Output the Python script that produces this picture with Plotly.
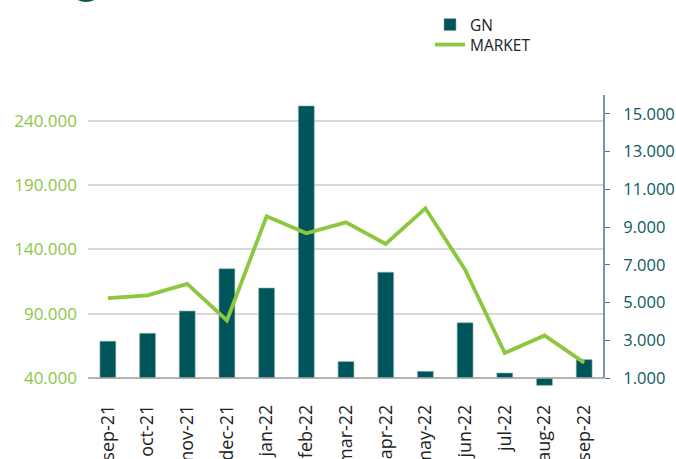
import plotly.graph_objects as go

months = ["sep-21", "oct-21", "nov-21", "dec-21", "jan-22", "feb-22", "mar-22",
          "apr-22", "may-22", "jun-22", "jul-22", "aug-22", "sep-22"]
gn = [2950, 3370, 4550, 6790, 5770, 15420, 1870, 6610, 1355, 3930, 1265, 610, 1975]
market = [102100, 104200, 113200, 84800, 165700, 152500, 161000, 144300, 171900,
          124300, 59400, 73100, 51900]

left_ticks = [40000, 90000, 140000, 190000, 240000]
right_ticks = [1000, 3000, 5000, 7000, 9000, 11000, 13000, 15000]

GN_COLOR = "#00555A"
MK_COLOR = "#8DC63F"
FONT = "Open Sans"

W, H = 676, 459
top_px, bottom_px, base_px = 95, 390, 378
l_px, r_px = 88, 604
frac = (bottom_px - base_px) / (base_px - top_px)
gn_base, gn_top = 1000, 16000
mk_base, mk_top = 40000, 260000
gn_range = [gn_base - frac * (gn_top - gn_base), gn_top]
mk_range = [mk_base - frac * (mk_top - mk_base), mk_top]

fig = go.Figure()
fig.add_trace(go.Bar(
    x=months, y=[v - gn_base for v in gn], base=gn_base, name="GN",
    marker=dict(color=GN_COLOR, line=dict(color="#8fb0b1", width=0.6)),
    customdata=gn, hovertemplate="%{x}: %{customdata}<extra>GN</extra>",
    yaxis="y", legend="legend",
))
fig.add_trace(go.Scatter(
    x=months, y=market, name="MARKET", mode="lines",
    line=dict(color=MK_COLOR, width=3.8),
    yaxis="y2", legend="legend2",
))

pw = r_px - l_px
ph = bottom_px - top_px

def px_to_paper_x(px):
    return (px - l_px) / pw

def px_to_paper_y(py):
    return (bottom_px - py) / ph

legend_common = dict(
    xanchor="left", yanchor="top", bgcolor="rgba(0,0,0,0)",
    font=dict(family=FONT, size=15.5, color="#222222"), itemwidth=30,
)

fig.update_layout(
    width=W, height=H,
    margin=dict(l=l_px, r=W - r_px, t=top_px, b=H - bottom_px, autoexpand=False),
    paper_bgcolor="white", plot_bgcolor="white",
    font=dict(family=FONT, size=16, color="#222222"),
    separators=",.",
    bargap=0.6,
    showlegend=True,
    legend=dict(x=px_to_paper_x(430), y=px_to_paper_y(8), **legend_common),
    legend2=dict(x=px_to_paper_x(430), y=px_to_paper_y(28), **legend_common),
    xaxis=dict(
        type="category", tickangle=-90, showgrid=False, showline=False,
        ticks="", tickfont=dict(family=FONT, size=18, color="#222222"),
        ticklabelstandoff=10, automargin=False,
    ),
    yaxis=dict(
        side="right", range=gn_range, tickvals=right_ticks, tickformat=",.0f",
        showgrid=False, zeroline=False, showline=False,
        ticks="outside", ticklen=5, tickwidth=1.3, tickcolor="#4F7196",
        tickfont=dict(family=FONT, size=16.5, color="#0B5A5E"),
        ticklabelstandoff=10, automargin=False,
    ),
    yaxis2=dict(
        side="left", overlaying="y", range=mk_range, tickvals=left_ticks,
        tickformat=",.0f", showgrid=True, gridcolor="#D9D9D9", gridwidth=1.5,
        zeroline=False, showline=False, ticks="",
        tickfont=dict(family=FONT, size=17, color=MK_COLOR),
        ticklabelstandoff=10, automargin=False,
    ),
    shapes=[
        dict(type="line", xref="paper", yref="y", x0=0, x1=1, y0=gn_base, y1=gn_base,
             line=dict(color="#A6A6A6", width=1.5), layer="above"),
        dict(type="line", xref="paper", yref="y", x0=1, x1=1, y0=gn_base, y1=gn_top,
             line=dict(color="#4F7196", width=1.5), layer="above"),
        dict(type="circle", xref="paper", yref="paper",
             x0=px_to_paper_x(75), x1=px_to_paper_x(97),
             y0=px_to_paper_y(2), y1=px_to_paper_y(-10),
             fillcolor="#0D5C2E", line=dict(width=0), layer="above"),
    ],
)

fig.write_html(
    "out.html",
    config={"displayModeBar": False},
    post_script="document.body.style.margin='0px';document.body.style.padding='0px';",
)
